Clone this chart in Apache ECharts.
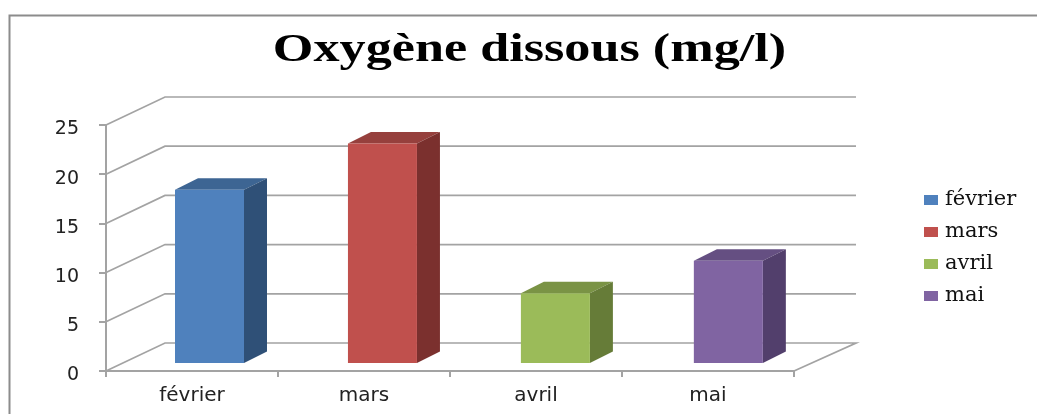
<!DOCTYPE html>
<html><head><meta charset="utf-8">
<style>html,body{margin:0;padding:0;background:#fff}#c{width:1037px;height:414px}</style>
<script src="https://cdn.jsdelivr.net/npm/echarts@6/dist/echarts.min.js"></script>
</head><body><div id="c"></div>
<script>
const titleText = 'Oxygène dissous (mg/l)';
const categories = ['février','mars','avril','mai'];
const values = [17.6, 22.3, 7.1, 10.4];
const yTicks = [0,5,10,15,20,25];
const frontColors = ['#4f81bd','#c0504d','#9bbb59','#8064a2'];
const sideColors = ['#2f5077','#7b302e','#667c38','#523f6c'];
const topColors = ['#3d6593','#96403d','#7a9345','#654f82'];
const gridColor = '#a3a3a3';
const chart = echarts.init(document.getElementById('c'));
const WALL = {dx:59, dy:-28, end:856};
const BAR = {shift:17.5, spread:0.95, lift:-8, dx:23, dy:-11.5, w:69};
function wallItem(params, api){
  const p = api.coord([0, api.value(0)]);
  const band = api.size([1,0])[0];
  const left = api.coord([0,0])[0] - band/2;
  const pts = [[left,p[1]],[left+WALL.dx,p[1]+WALL.dy],[WALL.end,p[1]+WALL.dy]];
  if (api.value(0)===0) pts.push([left+band*categories.length,p[1]]);
  return {type:'polyline',shape:{points:pts},style:{fill:'none',stroke:gridColor,lineWidth:1.7},silent:true};
}
function barItem(idx){
  return function(params, api){
    const c = api.coord([api.value(0), api.value(1)]);
    const b = api.coord([api.value(0), 0]);
    const l = c[0]+BAR.shift+idx*BAR.spread-BAR.w/2, r=l+BAR.w;
    const t = c[1]+BAR.lift, bt = b[1]+BAR.lift;
    return {type:'group',children:[
      {type:'polygon',shape:{points:[[l,t],[r,t],[r+BAR.dx,t+BAR.dy],[l+BAR.dx,t+BAR.dy]]},style:{fill:topColors[idx]}},
      {type:'polygon',shape:{points:[[r,t],[r+BAR.dx,t+BAR.dy],[r+BAR.dx,bt+BAR.dy],[r,bt]]},style:{fill:sideColors[idx]}},
      {type:'rect',shape:{x:l,y:t,width:BAR.w,height:bt-t},style:{fill:frontColors[idx]}}
    ]};
  };
}
const axisLine = {lineStyle:{color:gridColor,width:2}};
chart.setOption({
  animation:false,
  backgroundColor:'#fff',
  legend:{orient:'vertical',left:919,top:183,itemWidth:14,itemHeight:10,itemGap:8,icon:'rect',
    data:categories,textStyle:{fontFamily:'DejaVu Serif',fontSize:21,lineHeight:24,color:'#111',padding:[0,0,0,2]}},
  graphic:[
    {type:'polyline',shape:{points:[[9.5,414],[9.5,15.5],[1037,15.5]]},style:{fill:'none',stroke:'#8c8c8c',lineWidth:2},silent:true},
    {type:'text',x:529.5,y:51,scaleX:1.305,style:{text:titleText,align:'center',verticalAlign:'middle',
      fontFamily:'Liberation Serif',fontWeight:'bold',fontSize:40,fill:'#000'},silent:true}
  ],
  grid:{left:106,top:125,width:688,height:246},
  xAxis:{type:'category',data:categories,axisLine,axisTick:{show:true,length:6,lineStyle:{color:gridColor,width:2}},
    axisLabel:{fontFamily:'DejaVu Sans',fontSize:20,color:'#222',margin:15},splitLine:{show:false}},
  yAxis:{type:'value',min:0,max:25,interval:5,axisLine:{show:true,...axisLine},axisTick:{show:true,length:7,lineStyle:{color:gridColor,width:2}},
    axisLabel:{margin:27,formatter:'{a|{value}}',rich:{a:{fontFamily:'DejaVu Sans',fontSize:19,color:'#222',padding:[9,0,0,0]}}},splitLine:{show:false}},
  series:[
    {type:'custom',name:'walls',coordinateSystem:'cartesian2d',data:yTicks.map(v=>[v]),encode:{y:0},renderItem:wallItem,z:1,silent:true},
    ...categories.map((n,i)=>({type:'custom',name:n,coordinateSystem:'cartesian2d',itemStyle:{color:frontColors[i]},
      data:[[i,values[i]]],encode:{x:0,y:1},renderItem:barItem(i),z:2}))
  ]
});
</script></body></html>
